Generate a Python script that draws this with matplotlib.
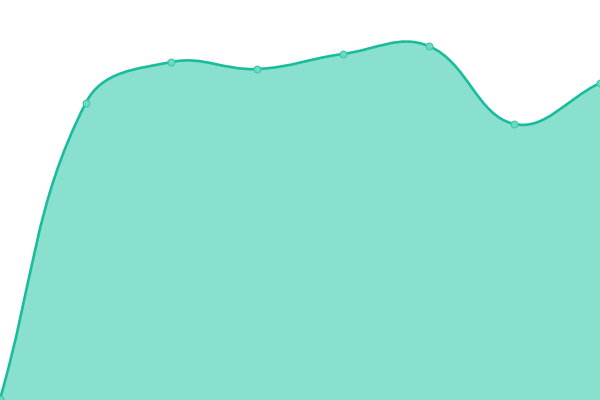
import numpy as np
import matplotlib
matplotlib.use("Agg")
import matplotlib.pyplot as plt
from matplotlib.path import Path
from matplotlib.patches import PathPatch

# values (pixels from bottom, canvas 400 high)
labels = ["1", "2", "3", "4", "5", "6", "7", "8"]
values = [1, 297, 338, 331, 346, 354, 276, 317]

line_color = "#1abc9c"
fill_color = "#89e0cf"
marker_fill = "#6fd8c2"

W, H = 600, 400
xs = np.arange(len(values)) * W / (len(values) - 1)
ys = np.array(values, dtype=float)


def spline_controls(px, py, t=0.4):
    # cardinal spline control points in pixel space
    n = len(px)
    prev_c, next_c = [], []
    for i in range(n):
        p0 = (px[max(i - 1, 0)], py[max(i - 1, 0)])
        p1 = (px[i], py[i])
        p2 = (px[min(i + 1, n - 1)], py[min(i + 1, n - 1)])
        d01 = np.hypot(p1[0] - p0[0], p1[1] - p0[1])
        d12 = np.hypot(p2[0] - p1[0], p2[1] - p1[1])
        tot = d01 + d12
        s01 = d01 / tot if tot else 0
        s12 = d12 / tot if tot else 0
        fa, fb = t * s01, t * s12
        prev_c.append((p1[0] - fa * (p2[0] - p0[0]), p1[1] - fa * (p2[1] - p0[1])))
        next_c.append((p1[0] + fb * (p2[0] - p0[0]), p1[1] + fb * (p2[1] - p0[1])))
    return prev_c, next_c


prev_c, next_c = spline_controls(xs, ys)
verts = [(xs[0], ys[0])]
codes = [Path.MOVETO]
for i in range(1, len(xs)):
    verts += [next_c[i - 1], prev_c[i], (xs[i], ys[i])]
    codes += [Path.CURVE4] * 3

fig = plt.figure(figsize=(6, 4), dpi=100)
ax = fig.add_axes([0, 0, 1, 1])
ax.set_xlim(0, W)
ax.set_ylim(0, H)
ax.axis("off")

area_verts = verts + [(xs[-1], 0), (xs[0], 0), (xs[0], ys[0])]
area_codes = codes + [Path.LINETO, Path.LINETO, Path.CLOSEPOLY]
ax.add_patch(PathPatch(Path(area_verts, area_codes), facecolor=fill_color, edgecolor="none"))
ax.add_patch(PathPatch(Path(verts, codes), facecolor="none", edgecolor=line_color, lw=1.9, capstyle="round"))

ax.scatter(xs, ys, s=24, facecolor=marker_fill, edgecolor="#3cc8aa", linewidths=0.8, zorder=3)

fig.savefig("out.png", dpi=100)
